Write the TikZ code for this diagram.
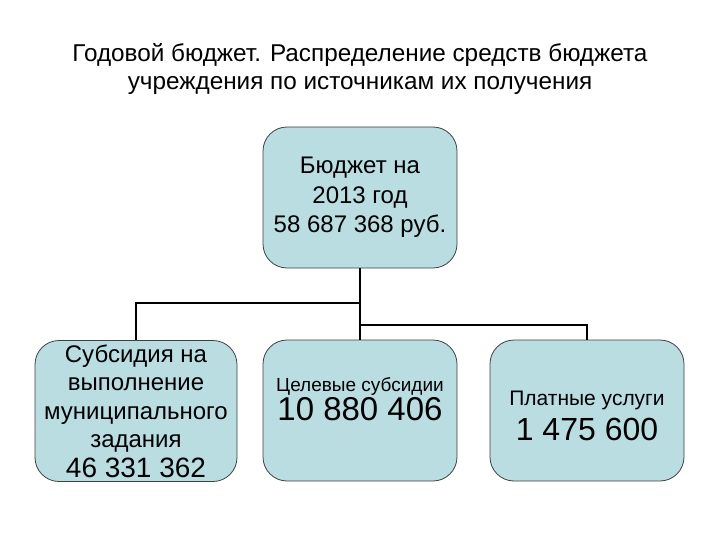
\documentclass[tikz,border=0pt]{standalone}
\usepackage{fontspec}
\setmainfont{Liberation Sans}
\definecolor{boxfill}{HTML}{BADDE2}
\definecolor{boxline}{HTML}{404040}
\begin{document}
\begin{tikzpicture}[x=1pt,y=-1pt,
  budget/.style={draw=boxline,line width=0.8pt,fill=boxfill,rounded corners=24pt,
    minimum width=194pt,minimum height=141pt,align=center,inner sep=0pt},
  boxtext/.style={align=center,inner sep=0pt},
  link/.style={draw=black,line width=1.6pt}]
\useasboundingbox (0,0) rectangle (720,540);
\node (title) at (360,69) [align=center,font=\fontsize{24.3}{28}\selectfont]
  {Годовой бюджет. Распределение средств бюджета\\учреждения по источникам их получения};
\node[budget,font=\fontsize{24}{29.5}\selectfont] (top) at (360,197.5) {Бюджет на\\2013 год\\58 687 368 руб.};
\node[budget,minimum width=202pt,font=\fontsize{24}{28.5}\selectfont] (left) at (136,411)
  {Субсидия на\\выполнение\\муниципального\\задания\\[1pt]\fontsize{28}{29}\selectfont 46 331 362};
\node[budget] (mid) at (360,410.5) {};
\node[boxtext,font=\fontsize{19}{29}\selectfont] (midtext) at (360,399.5) {Целевые субсидии\\\fontsize{33}{34}\selectfont 10 880 406};
\node[budget] (right) at (587,410.5) {};
\node[boxtext,font=\fontsize{21}{35}\selectfont] (righttext) at (587,415.5) {Платные услуги\\\fontsize{32}{36}\selectfont 1 475 600};
\coordinate (j1) at (360,303);
\coordinate (j2) at (360,325);
\draw[link] (top.south) -- (j2);
\draw[link] (j1) -| (left.north);
\draw[link] (j2) -- (mid.north);
\draw[link] (j2) -| (right.north);
\end{tikzpicture}
\end{document}
